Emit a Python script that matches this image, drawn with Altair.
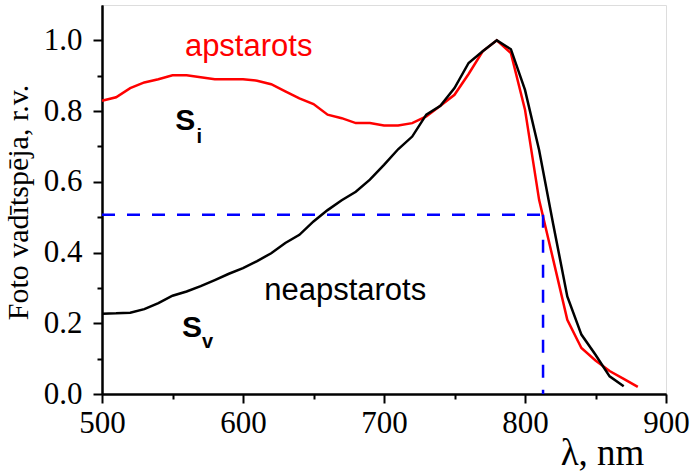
import altair as alt
import pandas as pd

# ---- data ----
wl_irr = [500, 510, 520, 530, 540, 550, 560, 570, 580, 590, 600, 610, 620, 630, 640,
          650, 660, 670, 680, 690, 700, 710, 720, 730, 740, 750, 760, 770, 780, 790,
          800, 810, 820, 830, 840, 850, 860, 870, 880]
s_irr = [0.829, 0.839, 0.865, 0.881, 0.890, 0.901, 0.901, 0.896, 0.890, 0.890, 0.890,
         0.886, 0.876, 0.856, 0.836, 0.820, 0.790, 0.780, 0.766, 0.766, 0.759, 0.759,
         0.766, 0.785, 0.815, 0.846, 0.905, 0.969, 1.000, 0.964, 0.804, 0.549, 0.380,
         0.210, 0.130, 0.095, 0.065, 0.043, 0.020]

wl_non = [500, 510, 520, 530, 540, 550, 560, 570, 580, 590, 600, 610, 620, 630, 640,
          650, 660, 670, 680, 690, 700, 710, 720, 730, 740, 750, 760, 770, 780, 790,
          800, 810, 820, 830, 840, 850, 860, 870]
s_non = [0.227, 0.228, 0.230, 0.240, 0.257, 0.278, 0.290, 0.305, 0.322, 0.340, 0.356,
         0.376, 0.398, 0.427, 0.450, 0.488, 0.520, 0.548, 0.572, 0.606, 0.648, 0.692,
         0.728, 0.790, 0.815, 0.865, 0.936, 0.969, 1.000, 0.975, 0.860, 0.690, 0.480,
         0.276, 0.168, 0.111, 0.050, 0.022]

x_major = [500, 600, 700, 800, 900]
x_minor = [550, 650, 750, 850]
y_major = [0.0, 0.2, 0.4, 0.6, 0.8, 1.0]
y_minor = [0.1, 0.3, 0.5, 0.7, 0.9]

half_level = 0.507
half_wl = 812.8

labels_text = ["apstarots", "neapstarots"]
labels_x = [604, 672.5]
labels_y = [0.955, 0.265]
labels_col = ["#ff0000", "#000000"]

s_text = ["S", "S"]
s_x = [552, 556.7]
s_y = [0.747, 0.162]
sub_text = ["i", "v"]
sub_x = [567, 571]
sub_y = [0.711, 0.130]

# ---- tables ----
df_irr = pd.DataFrame({"wl": wl_irr, "v": s_irr})
df_non = pd.DataFrame({"wl": wl_non, "v": s_non})
df_lab = pd.DataFrame({"t": labels_text, "wl": labels_x, "v": labels_y, "c": labels_col})
df_s = pd.DataFrame({"t": s_text, "wl": s_x, "v": s_y})
df_sub = pd.DataFrame({"t": sub_text, "wl": sub_x, "v": sub_y})
df_h = pd.DataFrame({"x1": [500], "x2": [half_wl], "y": [half_level]})
df_v = pd.DataFrame({"x": [half_wl], "y1": [0.0], "y2": [half_level]})

xs = alt.Scale(domain=[500, 900], nice=False, zero=False)
ys = alt.Scale(domain=[0, 1.1], nice=False, zero=False)

serif = "Liberation Serif"
sans = "Liberation Sans"

ax_common = dict(domainColor="black", domainWidth=2, tickColor="black", tickWidth=2,
                 grid=False, labelFont=serif, labelColor="black", labelFontSize=31,
                 labelFlush=False, labelOverlap=False)

x_major_axis = alt.Axis(values=x_major, orient="bottom", tickSize=9, labelPadding=5,
                        format="d", title="λ, nm", titleFont=serif, titleFontSize=37,
                        titleFontWeight="normal", titleColor="black", titleX=500, titleY=70,
                        titleAlign="center", titleBaseline="alphabetic", **ax_common)
y_major_axis = alt.Axis(values=y_major, orient="left", tickSize=9, labelPadding=11,
                        format=".1f", title="Foto vadītspēja, r.v.", titleFont=serif,
                        titleFontSize=30, titleFontWeight="normal", titleColor="black",
                        titleAngle=270, titleX=-75, titleY=197, titleAlign="center",
                        titleBaseline="alphabetic", **ax_common)
x_minor_axis = alt.Axis(values=x_minor, orient="bottom", tickSize=5, labels=False,
                        title=None, **ax_common)
y_minor_axis = alt.Axis(values=y_minor, orient="left", tickSize=5, labels=False,
                        title=None, **ax_common)

red_line = alt.Chart(df_irr).mark_line(color="#ff0000", strokeWidth=2.5).encode(
    x=alt.X("wl:Q", scale=xs, axis=x_major_axis),
    y=alt.Y("v:Q", scale=ys, axis=y_major_axis),
)
black_line = alt.Chart(df_non).mark_line(color="#000000", strokeWidth=2.5).encode(
    x=alt.X("wl:Q", scale=xs, axis=x_minor_axis),
    y=alt.Y("v:Q", scale=ys, axis=y_minor_axis),
)

h_dash = alt.Chart(df_h).mark_rule(color="#0000ff", strokeWidth=2.5, strokeDash=[13, 12]).encode(
    x=alt.X("x1:Q", scale=xs, axis=None), x2="x2:Q",
    y=alt.Y("y:Q", scale=ys, axis=None),
)
v_dash = alt.Chart(df_v).mark_rule(color="#0000ff", strokeWidth=2.5, strokeDash=[13, 12]).encode(
    x=alt.X("x:Q", scale=xs, axis=None),
    y=alt.Y("y2:Q", scale=ys, axis=None), y2="y1:Q",
)

labels = alt.Chart(df_lab).mark_text(font=sans, fontSize=31, align="center",
                                     baseline="alphabetic").encode(
    x=alt.X("wl:Q", scale=xs, axis=None),
    y=alt.Y("v:Q", scale=ys, axis=None),
    text="t:N",
    color=alt.Color("c:N", scale=None),
)
s_main = alt.Chart(df_s).mark_text(font=sans, fontSize=30, fontWeight="bold", align="left",
                                   baseline="alphabetic", color="black").encode(
    x=alt.X("wl:Q", scale=xs, axis=None),
    y=alt.Y("v:Q", scale=ys, axis=None),
    text="t:N",
)
s_sub = alt.Chart(df_sub).mark_text(font=sans, fontSize=20, fontWeight="bold", align="left",
                                    baseline="alphabetic", color="black").encode(
    x=alt.X("wl:Q", scale=xs, axis=None),
    y=alt.Y("v:Q", scale=ys, axis=None),
    text="t:N",
)

chart = alt.layer(red_line, black_line, h_dash, v_dash, labels, s_main, s_sub).resolve_axis(
    x="independent", y="independent"
).properties(
    width=564, height=389,
    autosize=alt.AutoSizeParams(type="none"),
    padding={"left": 102, "top": 5, "right": 24, "bottom": 80},
).configure_view(stroke="black", strokeWidth=2).configure(background="white")

chart.save("out.html", embed_options={"renderer": "svg", "actions": False})
